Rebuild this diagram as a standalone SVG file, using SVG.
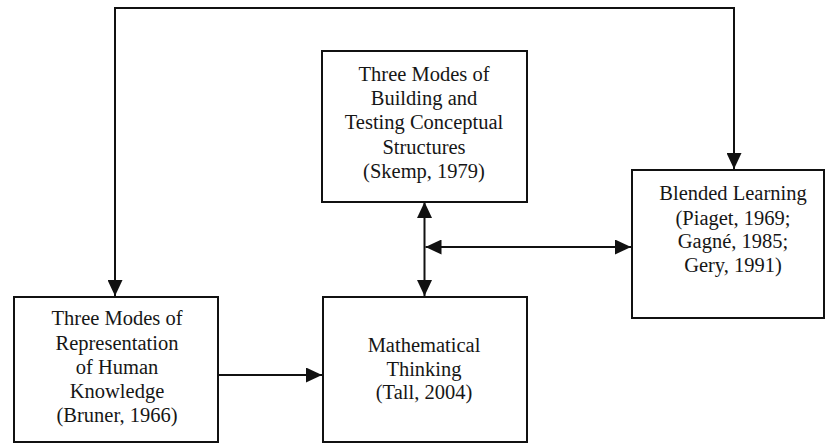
<svg xmlns="http://www.w3.org/2000/svg" width="826" height="444" viewBox="0 0 826 444">
  <style>
    .box { fill: #ffffff; stroke: #111111; stroke-width: 2; }
    .lbl { font-family: "Liberation Serif", "Times New Roman", serif; font-size: 20.5px; fill: #161616; text-anchor: middle; }
    .conn { fill: none; stroke: #111111; stroke-width: 2; }
  </style>
  <defs>
    <marker id="arrow" markerUnits="userSpaceOnUse" markerWidth="16" markerHeight="15" refX="16" refY="7.5" orient="auto-start-reverse">
      <path d="M0,0 L16,7.5 L0,15 Z" fill="#111111"/>
    </marker>
  </defs>
  <rect width="826" height="444" fill="#ffffff"/>

  <g id="connectors">
    <!-- loop over the top, from Bruner to Blended Learning -->
    <path class="conn" d="M115,296 V8 H734 V169" marker-start="url(#arrow)" marker-end="url(#arrow)"/>
    <!-- Bruner to Mathematical Thinking -->
    <path class="conn" d="M218,375 H322" marker-end="url(#arrow)"/>
    <!-- Skemp to Mathematical Thinking (both ways) -->
    <path class="conn" d="M424.5,202 V296" marker-start="url(#arrow)" marker-end="url(#arrow)"/>
    <!-- junction to Blended Learning (both ways) -->
    <path class="conn" d="M425.5,247 H631" marker-start="url(#arrow)" marker-end="url(#arrow)"/>
  </g>

  <g id="skemp">
    <rect class="box" x="322" y="51" width="205" height="151"/>
    <text class="lbl" x="424" y="81">Three Modes of</text>
    <text class="lbl" x="424" y="105">Building and</text>
    <text class="lbl" x="424" y="129">Testing Conceptual</text>
    <text class="lbl" x="424" y="154">Structures</text>
    <text class="lbl" x="424" y="178">(Skemp, 1979)</text>
  </g>

  <g id="blended">
    <rect class="box" x="632" y="170" width="192" height="148"/>
    <text class="lbl" x="733" y="200">Blended Learning</text>
    <text class="lbl" x="733" y="225">(Piaget, 1969;</text>
    <text class="lbl" x="733" y="248">Gagné, 1985;</text>
    <text class="lbl" x="733" y="272">Gery, 1991)</text>
  </g>

  <g id="bruner">
    <rect class="box" x="14" y="297" width="204" height="145"/>
    <text class="lbl" x="117" y="325">Three Modes of</text>
    <text class="lbl" x="117" y="350">Representation</text>
    <text class="lbl" x="117" y="374">of Human</text>
    <text class="lbl" x="117" y="398">Knowledge</text>
    <text class="lbl" x="117" y="422">(Bruner, 1966)</text>
  </g>

  <g id="tall">
    <rect class="box" x="323" y="297" width="204" height="145"/>
    <text class="lbl" x="424" y="352">Mathematical</text>
    <text class="lbl" x="424" y="376">Thinking</text>
    <text class="lbl" x="424" y="399">(Tall, 2004)</text>
  </g>
</svg>
